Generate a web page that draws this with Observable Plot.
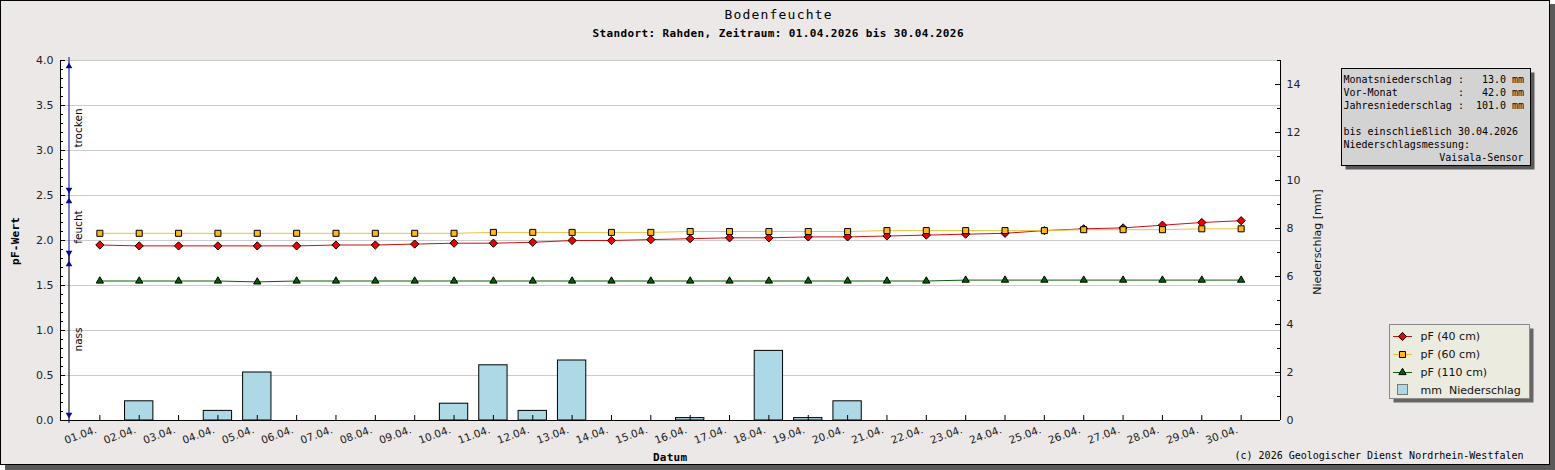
<!DOCTYPE html>
<html>
<head>
<meta charset="utf-8">
<script src="https://cdn.jsdelivr.net/npm/d3@7"></script>
<script src="https://cdn.jsdelivr.net/npm/@observablehq/plot@0.6"></script>
<style>
  html, body { margin: 0; padding: 0; background: #ffffff; }
  #chart { width: 1555px; height: 470px; }
  #chart svg { display: block; }
</style>
</head>
<body>
<div id="chart"></div>
<script>
// ---------------- data ----------------
const days = [1,2,3,4,5,6,7,8,9,10,11,12,13,14,15,16,17,18,19,20,21,22,23,24,25,26,27,28,29,30];
const dateLabels = ["01.04.","02.04.","03.04.","04.04.","05.04.","06.04.","07.04.","08.04.","09.04.","10.04.",
  "11.04.","12.04.","13.04.","14.04.","15.04.","16.04.","17.04.","18.04.","19.04.","20.04.",
  "21.04.","22.04.","23.04.","24.04.","25.04.","26.04.","27.04.","28.04.","29.04.","30.04."];
const pF40 = [1.95,1.94,1.94,1.94,1.94,1.94,1.95,1.95,1.96,1.97,1.97,1.98,2.00,2.00,2.01,2.02,2.03,2.03,2.04,2.04,
  2.05,2.06,2.07,2.08,2.11,2.13,2.14,2.17,2.20,2.22];
const pF60 = [2.08,2.08,2.08,2.08,2.08,2.08,2.08,2.08,2.08,2.08,2.09,2.09,2.09,2.09,2.09,2.10,2.10,2.10,2.10,2.10,
  2.11,2.11,2.11,2.11,2.11,2.12,2.12,2.12,2.13,2.13];
const pF110 = [1.55,1.55,1.55,1.55,1.54,1.55,1.55,1.55,1.55,1.55,1.55,1.55,1.55,1.55,1.55,1.55,1.55,1.55,1.55,1.55,
  1.55,1.55,1.56,1.56,1.56,1.56,1.56,1.56,1.56,1.56];
const rainMm = [0,0.8,0,0.4,2.0,0,0,0,0,0.7,2.3,0.4,2.5,0,0,0.1,0,2.9,0.1,0.8,0,0,0,0,0,0,0,0,0,0];

const pfTickLabels = [0,0.5,1.0,1.5,2.0,2.5,3.0,3.5,4.0];
const mmTickLabels = [0,2,4,6,8,10,12,14];
const mmMinorTicks = [1,3,5,7,9,11,13,15];

const zoneNames = ["trocken","feucht","nass"];
const zoneTop = [4.0, 2.5, 1.8];
const zoneBottom = [2.5, 1.8, 0.0];
const zoneLine = ["#0a0a8c","#0a0a8c","#000000"];

const seriesNames = ["pF (40 cm)","pF (60 cm)","pF (110 cm)","mm  Niederschlag"];

const infoLabels = ["Monatsniederschlag :","Vor-Monat          :","Jahresniederschlag :"];
const infoValues = ["13.0 mm","42.0 mm","101.0 mm"];
const infoNote = ["bis einschließlich 30.04.2026","Niederschlagsmessung:"];
const infoSensor = "Vaisala-Sensor";

const titleText = "Bodenfeuchte";
const subtitleText = "Standort: Rahden, Zeitraum: 01.04.2026 bis 30.04.2026";
const copyrightText = "(c) 2026 Geologischer Dienst Nordrhein-Westfalen";

// ---------------- derived tables ----------------
const MM_MAX = 15, PF_MAX = 4;
const k = PF_MAX / MM_MAX; // pF units per mm (shared vertical scale)
const table = days.map((d, i) => ({day: d, label: dateLabels[i], v40: pF40[i], v60: pF60[i], v110: pF110[i], mm: rainMm[i]}));
const rainBars = table.filter(d => d.mm > 0);
const zones = zoneNames.map((n, i) => ({name: n, top: zoneTop[i], bottom: zoneBottom[i], line: zoneLine[i]}));
const pfMinor = d3.range(0, 41).map(i => i / 10).filter(v => Math.abs(v * 2 - Math.round(v * 2)) > 1e-6);

const W = 1555, H = 470;
const mL = 60, mR = 275, mT = 60, mB = 50;
const plotW = W - mL - mR, plotH = H - mT - mB;

const RED = "#ee0000", RED_LINE = "#cc1010";
const YEL = "#ffb81c", YEL_LINE = "#efc03a";
const GRN = "#006400", GRN_LINE = "#0b5e0b";
const BAR = "#add8e6";
const NAVY = "#0a0a8c";
const R_RED = 3.7, R_YEL = 3.4, R_GRN = 2.7;

const chart = Plot.plot({
  width: W, height: H,
  marginLeft: mL, marginRight: mR, marginTop: mT, marginBottom: mB,
  style: {background: "transparent", fontFamily: "DejaVu Sans, sans-serif", fontSize: "11px", color: "#000", overflow: "visible"},
  x: {type: "linear", domain: [0, 31], axis: null},
  y: {type: "linear", domain: [0, PF_MAX]},
  color: {type: "identity"},
  marks: [
    Plot.frame({fill: "white", stroke: "none"}),
    Plot.ruleY(pfTickLabels.filter(v => v > 0), {stroke: "#cccccc", strokeWidth: 1}),
    // precipitation bars (right axis, mapped onto shared scale)
    Plot.rect(rainBars, {x1: d => d.day - 0.36, x2: d => d.day + 0.36, y1: 0, y2: d => d.mm * k,
      fill: BAR, stroke: "#000", strokeWidth: 1}),
    // pF 40 cm
    Plot.line(table, {x: "day", y: "v40", stroke: RED_LINE, strokeWidth: 1}),
    Plot.dot(table, {x: "day", y: "v40", symbol: "diamond2", r: R_RED, fill: RED, stroke: "#000", strokeWidth: 1}),
    // pF 60 cm
    Plot.line(table, {x: "day", y: "v60", stroke: YEL_LINE, strokeWidth: 1}),
    Plot.dot(table, {x: "day", y: "v60", symbol: "square", r: R_YEL, fill: YEL, stroke: "#000", strokeWidth: 1}),
    // pF 110 cm
    Plot.line(table, {x: "day", y: "v110", stroke: GRN_LINE, strokeWidth: 1}),
    Plot.dot(table, {x: "day", y: "v110", symbol: "triangle", r: R_GRN, fill: GRN, stroke: "#000", strokeWidth: 1}),
    // axis lines
    Plot.ruleX([0, 31], {stroke: "#000"}),
    Plot.ruleY([0], {stroke: "#000"}),
    // inward ticks
    Plot.ruleY(pfMinor, {insetRight: plotW - 3, stroke: "#000"}),
    Plot.ruleY(pfTickLabels, {insetRight: plotW - 5, stroke: "#000"}),
    Plot.ruleY(mmMinorTicks.map(m => m * k), {insetLeft: plotW - 3, stroke: "#000"}),
    Plot.ruleY(mmTickLabels.map(m => m * k), {insetLeft: plotW - 5, stroke: "#000"}),
    Plot.ruleX(days, {insetTop: plotH - 5, stroke: "#000"}),
    // tick labels
    Plot.axisY(pfTickLabels, {anchor: "left", tickSize: 0, tickPadding: 7, tickFormat: d => d.toFixed(1),
      fontSize: 11, fill: "#222", label: null}),
    Plot.axisY(mmTickLabels.map(m => m * k), {anchor: "right", tickSize: 0, tickPadding: 6,
      tickFormat: v => String(Math.round(v / k)), fontSize: 11, fill: "#222", label: null}),
    Plot.text(table, {x: "day", frameAnchor: "bottom", text: "label", rotate: -20, textAnchor: "end",
      lineAnchor: "bottom", dx: -2.5, dy: 12, fontSize: 10.5, fill: "#222"}),
    // moisture zone bracket
    Plot.ruleX(zones, {x: () => 0, y1: "bottom", y2: "top", dx: 8.5, stroke: "line", insetTop: 3, insetBottom: 3}),
    Plot.dot(zones, {x: () => 0, y: "top", dx: 8.5, dy: 5.8, symbol: "triangle", r: 2.5, fill: NAVY, stroke: "none"}),
    Plot.dot(zones, {x: () => 0, y: "bottom", dx: 8.5, dy: -5.8, rotate: 180, symbol: "triangle", r: 2.5, fill: NAVY, stroke: "none"}),
    Plot.text(zones, {x: () => 0, y: d => (d.top + d.bottom) / 2, text: "name", rotate: -90, dx: 21,
      textAnchor: "middle", lineAnchor: "bottom", fontSize: 10.5, fill: "#000"})
  ]
});

document.getElementById("chart").appendChild(chart);

// ---------------- decorations: frame, titles, info box, legend ----------------
const svg = d3.select(chart);
const bgG = svg.insert("g", ":first-child");
bgG.append("rect").attr("x", 5).attr("y", 4).attr("width", W - 5).attr("height", H - 4).attr("fill", "#5a5a5a");
bgG.append("rect").attr("x", 0.5).attr("y", 0.5).attr("width", 1549).attr("height", 464)
  .attr("fill", "#ece8e7").attr("stroke", "#000").attr("stroke-width", 1);

const deco = svg.append("g").attr("text-anchor", "start");
const MONO = "DejaVu Sans Mono, monospace";

deco.append("text").attr("x", 778).attr("y", 18.5).attr("text-anchor", "middle")
  .attr("font-family", MONO).attr("font-size", 13).attr("textLength", 107).attr("lengthAdjust", "spacing")
  .attr("fill", "#000").text(titleText);
deco.append("text").attr("x", 778).attr("y", 37).attr("text-anchor", "middle")
  .attr("font-family", MONO).attr("font-weight", "bold").attr("font-size", 11)
  .attr("textLength", 371).attr("lengthAdjust", "spacing").attr("fill", "#000").text(subtitleText);

deco.append("text").attr("transform", "translate(19,241) rotate(-90)").attr("text-anchor", "middle")
  .attr("font-family", MONO).attr("font-weight", "bold").attr("font-size", 11)
  .attr("textLength", 48).attr("lengthAdjust", "spacing").attr("fill", "#000").text("pF-Wert");
deco.append("text").attr("x", 670).attr("y", 460.5).attr("text-anchor", "middle")
  .attr("font-family", MONO).attr("font-weight", "bold").attr("font-size", 11)
  .attr("textLength", 34).attr("lengthAdjust", "spacing").attr("fill", "#000").text("Datum");
deco.append("text").attr("transform", "translate(1321,242) rotate(-90)").attr("text-anchor", "middle")
  .attr("font-family", "DejaVu Sans, sans-serif").attr("font-size", 11).attr("fill", "#111").text("Niederschlag [mm]");
deco.append("text").attr("x", 1523.5).attr("y", 458.5).attr("text-anchor", "end")
  .attr("font-family", MONO).attr("font-size", 10).attr("fill", "#000").text(copyrightText);

// info box
const ib = deco.append("g");
ib.append("rect").attr("x", 1345.5).attr("y", 72.5).attr("width", 189).attr("height", 97).attr("fill", "#5a5a5a");
ib.append("rect").attr("x", 1341.5).attr("y", 68.5).attr("width", 189).attr("height", 97)
  .attr("fill", "#d3d3d3").attr("stroke", "#000").attr("stroke-width", 1);
const infoRows = infoLabels.map((l, i) => {
  const v = infoValues[i];
  return l + " ".repeat(Math.max(1, 30 - l.length - v.length)) + v;
});
const infoLines = [...infoRows, "", ...infoNote];
infoLines.forEach((t, i) => {
  ib.append("text").attr("x", 1343.5).attr("y", 83 + i * 13).attr("text-anchor", "start")
    .attr("font-family", MONO).attr("font-size", 10)
    .attr("xml:space", "preserve").style("white-space", "pre").attr("fill", "#000").text(t);
});
ib.append("text").attr("x", 1523.5).attr("y", 83 + 6 * 13).attr("text-anchor", "end")
  .attr("font-family", MONO).attr("font-size", 10).attr("fill", "#000").text(infoSensor);

// legend
const lg = deco.append("g");
lg.append("rect").attr("x", 1393.5).attr("y", 328.5).attr("width", 140).attr("height", 74).attr("fill", "#666");
lg.append("rect").attr("x", 1389.5).attr("y", 324.5).attr("width", 140).attr("height", 74)
  .attr("fill", "#ecebdf").attr("stroke", "#8a8a8a").attr("stroke-width", 1);
const legSym = [
  {type: "line", sym: d3.symbolDiamond2, r: R_RED, fill: RED, line: RED_LINE},
  {type: "line", sym: d3.symbolSquare, r: R_YEL, fill: YEL, line: YEL_LINE},
  {type: "line", sym: d3.symbolTriangle, r: R_GRN, fill: GRN, line: GRN_LINE},
  {type: "swatch", fill: BAR}
];
seriesNames.forEach((name, i) => {
  const cy = 336 + i * 18;
  const s = legSym[i];
  if (s.type === "line") {
    lg.append("line").attr("x1", 1393).attr("x2", 1412).attr("y1", cy + 0.5).attr("y2", cy + 0.5)
      .attr("stroke", s.line).attr("stroke-width", 1);
    lg.append("path").attr("transform", `translate(1402.5,${cy + 0.5})`)
      .attr("d", d3.symbol(s.sym, Math.PI * s.r * s.r)())
      .attr("fill", s.fill).attr("stroke", "#000").attr("stroke-width", 1);
  } else {
    lg.append("rect").attr("x", 1397.5).attr("y", cy - 5.5).attr("width", 10).attr("height", 10)
      .attr("fill", s.fill).attr("stroke", "#777").attr("stroke-width", 1);
  }
  lg.append("text").attr("x", 1420.5).attr("y", cy + 4).attr("text-anchor", "start")
    .attr("font-family", "DejaVu Sans, sans-serif")
    .attr("font-size", 11).attr("xml:space", "preserve").style("white-space", "pre").attr("fill", "#111").text(name);
});
</script>
</body>
</html>
